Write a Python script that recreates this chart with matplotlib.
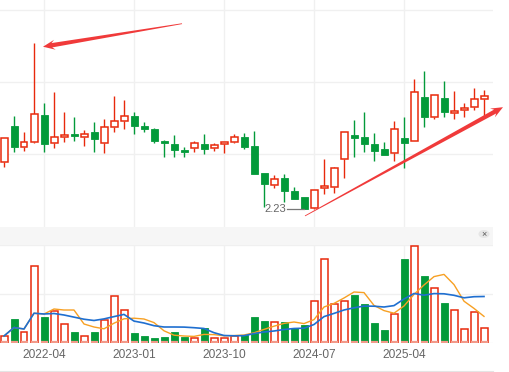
import numpy as np
import pandas as pd
import matplotlib
matplotlib.use('Agg')
import matplotlib.pyplot as plt
from matplotlib.patches import Rectangle, Polygon, Circle
from matplotlib.lines import Line2D

# monthly K-line, 2021-12 .. 2025-12
months = pd.period_range('2021-12', '2025-12', freq='M').strftime('%Y-%m').tolist()

opens = [2.89, 3.39, 3.10, 3.17, 3.54, 3.15, 3.24, 3.28, 3.24, 3.31,
         3.15, 3.38, 3.46, 3.53, 3.39, 3.35, 3.18, 3.14, 3.06, 3.08,
         3.14, 3.08, 3.14, 3.17, 3.24, 3.11, 2.74, 2.57, 2.67, 2.49,
         2.40, 2.25, 2.53, 2.54, 2.93, 3.26, 3.24, 3.14, 3.07, 3.01,
         3.22, 3.18, 3.79, 3.51, 3.78, 3.57, 3.61, 3.65, 3.76]
highs = [3.22, 3.53, 3.31, 4.54, 3.71, 3.86, 3.58, 3.51, 3.33, 3.44,
         3.49, 3.81, 3.75, 3.58, 3.44, 3.36, 3.19, 3.26, 3.10, 3.18,
         3.28, 3.15, 3.17, 3.28, 3.29, 3.32, 2.74, 2.71, 2.72, 2.54,
         2.40, 2.50, 2.93, 2.82, 3.31, 3.47, 3.58, 3.29, 3.17, 3.46,
         3.51, 4.04, 4.15, 3.82, 4.01, 3.88, 3.71, 3.92, 3.89]
lows = [2.82, 3.03, 3.04, 3.15, 3.03, 3.08, 3.17, 3.18, 3.11, 3.03,
        3.01, 3.31, 3.35, 3.28, 3.31, 3.15, 2.96, 2.96, 2.96, 3.03,
        3.00, 3.04, 3.01, 3.15, 3.07, 2.72, 2.26, 2.53, 2.33, 2.38,
        2.23, 2.24, 2.44, 2.46, 2.67, 2.96, 3.03, 2.90, 2.99, 2.90,
        2.81, 3.18, 3.38, 3.49, 3.51, 3.49, 3.51, 3.61, 3.51]
closes = [3.22, 3.10, 3.17, 3.56, 3.14, 3.24, 3.26, 3.25, 3.28, 3.21,
          3.38, 3.46, 3.53, 3.39, 3.35, 3.18, 3.15, 3.06, 3.03, 3.15,
          3.07, 3.13, 3.17, 3.24, 3.10, 2.72, 2.58, 2.65, 2.49, 2.38,
          2.24, 2.50, 2.56, 2.81, 3.31, 3.22, 3.14, 3.04, 2.99, 3.35,
          3.15, 3.86, 3.51, 3.82, 3.58, 3.60, 3.64, 3.76, 3.81]
# volume (10k lots)
volume = [7, 24, 11, 77, 26, 32, 19, 11, 7, 11,
          23, 47, 33, 10, 7, 5, 6, 11, 6, 5,
          15, 5, 5, 7, 8, 26, 22, 21, 21, 15,
          18, 42, 84, 39, 42, 48, 39, 20, 13, 29,
          84, 97, 67, 55, 40, 33, 14, 31, 15]

tick_labels = ['2022-04', '2023-01', '2023-10', '2024-07', '2025-04']

RED = '#e8290c'
GREEN = '#039a3a'
GRID = '#f0f0f0'
TXT = '#666666'

plt.rcParams['font.family'] = ['Liberation Sans', 'DejaVu Sans']

W, H = 509, 372
fig = plt.figure(figsize=(W / 100, H / 100), dpi=100)
right = 493 / W
ax1 = fig.add_axes([0, 1 - 227 / H, right, 227 / H])
ax2 = fig.add_axes([0, 1 - 343 / H, right, 98 / H])

x = np.arange(len(months))
tick_pos = [months.index(t) for t in tick_labels]
bw = 0.7

for i in x:
    o, h, l, c = opens[i], highs[i], lows[i], closes[i]
    up = c >= o
    col = RED if up else GREEN
    top, bot = max(o, c), min(o, c)
    ax1.plot([i, i], [top, h], color=col, lw=1.0, solid_capstyle='butt', zorder=2)
    ax1.plot([i, i], [l, bot], color=col, lw=1.0, solid_capstyle='butt', zorder=2)
    hgt = max(top - bot, 0.012)
    if up:
        ax1.add_patch(Rectangle((i - bw / 2, bot), bw, hgt, facecolor='white',
                                edgecolor=col, lw=1.1, zorder=3))
    else:
        ax1.add_patch(Rectangle((i - bw / 2, bot), bw, hgt, facecolor=col,
                                edgecolor=col, lw=0.6, zorder=3))

    v = volume[i]
    if up:
        ax2.add_patch(Rectangle((i - bw / 2, 0), bw, v, facecolor='white',
                                edgecolor=col, lw=1.1, zorder=3))
    else:
        ax2.add_patch(Rectangle((i - bw / 2, 0), bw, v, facecolor=col,
                                edgecolor=col, lw=0.6, zorder=3))
    ax2.plot([i - bw / 2, i + bw / 2], [0.6, 0.6], color='#f29a8a', lw=1.6,
             solid_capstyle='butt', zorder=4)

vol = pd.Series(volume, dtype=float)
ma5 = vol.rolling(5, min_periods=1).mean()
ma10 = vol.rolling(10, min_periods=1).mean()
ax2.plot(x, ma5, color='#f7a023', lw=1.0, zorder=5)
ax2.plot(x, ma10, color='#1f6fd0', lw=1.2, zorder=5)

# minimum label
imin = int(np.argmin(lows))
ax1.plot([imin - 1.7, imin], [lows[imin], lows[imin]], color='#777777', lw=0.9, zorder=4)
ax1.text(imin - 1.75, lows[imin], f'{lows[imin]:.2f}', ha='right', va='center',
         fontsize=8, color=TXT, zorder=4)

xlim = (-0.4, 48.9)
for ax in (ax1, ax2):
    ax.set_xlim(*xlim)
    ax.set_xticks(tick_pos)
    ax.grid(True, color=GRID, lw=1.0, zorder=0)
    ax.set_axisbelow(True)
    for s in ax.spines.values():
        s.set_visible(False)
    ax.tick_params(length=0)
    ax.set_yticklabels([])

ax1.set_ylim(1.986, 5.139)
ax1.set_yticks([3.0, 4.0, 5.0])
ax1.set_xticklabels([])
ax2.set_ylim(0, 98)
ax2.set_yticks([0, 49, 98])
ax2.set_xticklabels(tick_labels, fontsize=8.6, color=TXT)
ax2.tick_params(axis='x', pad=4)

# header strip of volume panel with close button
fig.patches.append(Rectangle((0, 1 - 245 / H), right, 18 / H, transform=fig.transFigure,
                             facecolor='#f6f6f6', edgecolor='none', zorder=0))
fig.patches.append(Circle((484 / W, 1 - 234 / H), 5.5 / W, transform=fig.transFigure,
                          facecolor='#e6e6e6', edgecolor='none'))
fig.text(484 / W, 1 - 234.5 / H, '×', ha='center', va='center', fontsize=6.5, color='#555555')
fig.add_artist(Line2D([0, right], [0.5 / H, 0.5 / H], transform=fig.transFigure,
                      color='#e4e4e4', lw=1.5))


def taper_arrow(ax, tail, head, head_len=12, head_w=5.0, shaft_w=2.2, tail_w=0.4):
    p0 = ax.transData.transform(tail)
    p1 = ax.transData.transform(head)
    d = p1 - p0
    u = d / np.hypot(*d)
    n = np.array([-u[1], u[0]])
    barb = p1 - u * head_len
    neck = p1 - u * head_len * 0.75
    pts = [p0 + n * tail_w, neck + n * shaft_w, barb + n * head_w, p1,
           barb - n * head_w, neck - n * shaft_w, p0 - n * tail_w]
    pts = fig.transFigure.inverted().transform(np.array(pts))
    fig.patches.append(Polygon(pts, closed=True, transform=fig.transFigure,
                               facecolor='#f03a3a', edgecolor='none', zorder=10))


taper_arrow(ax1, (17.8, 4.81), (3.9, 4.49))
taper_arrow(ax1, (30.1, 2.14), (49.9, 3.65))

fig.savefig('out.png', dpi=100)
